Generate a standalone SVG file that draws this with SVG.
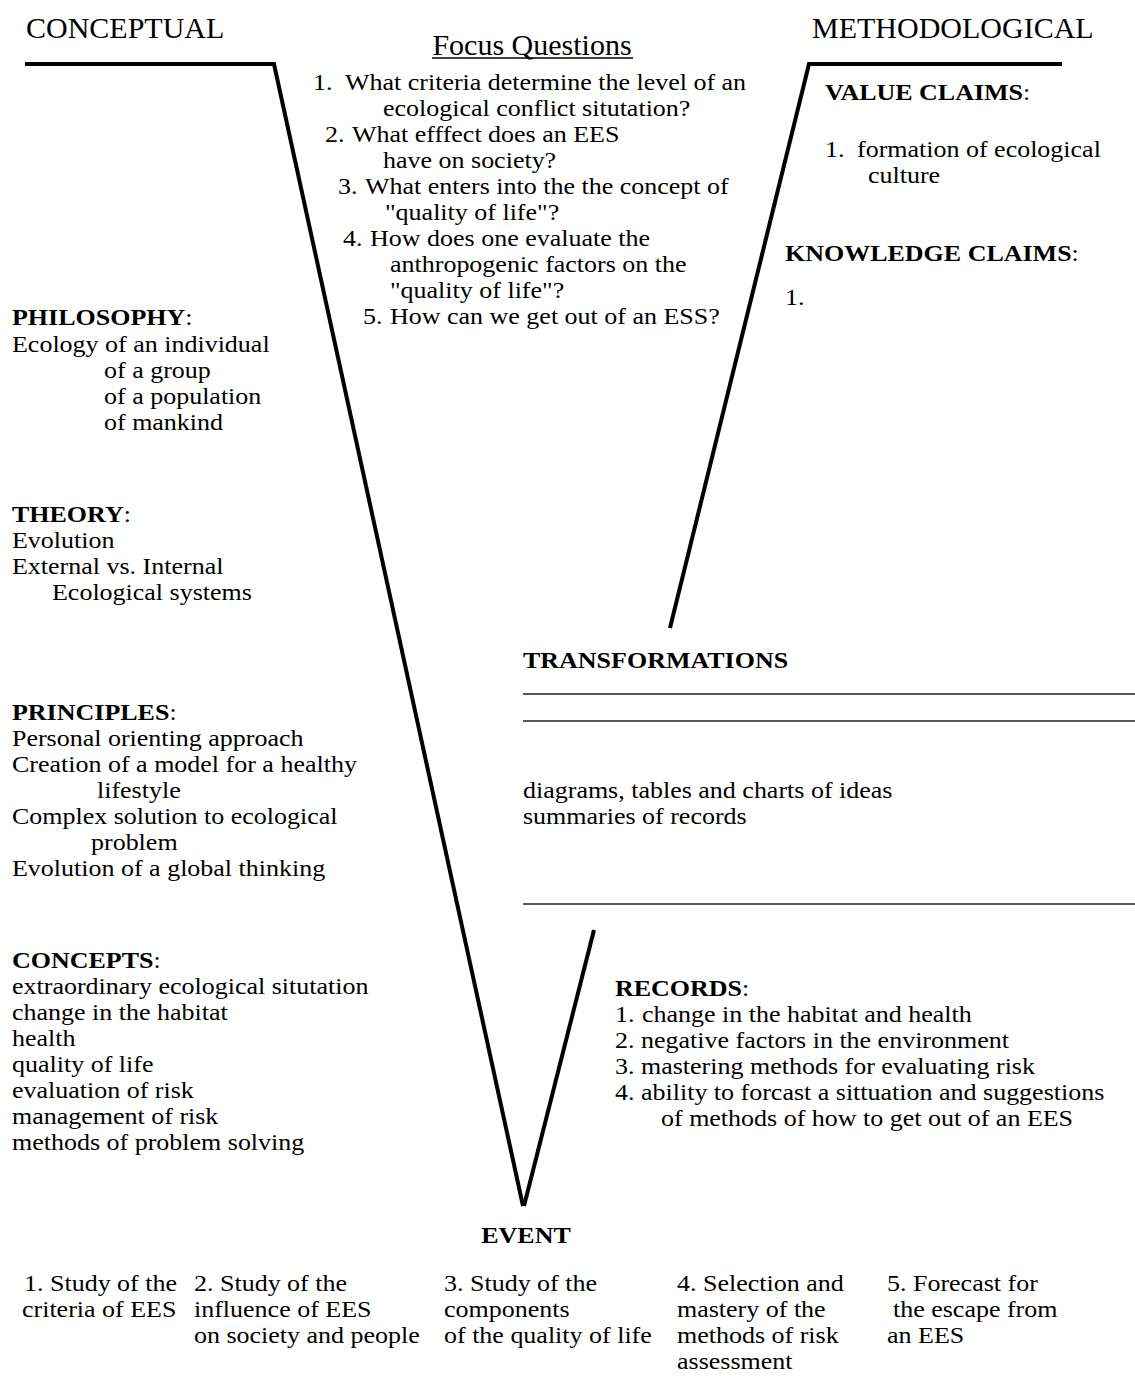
<svg xmlns="http://www.w3.org/2000/svg" width="1135" height="1376" viewBox="0 0 1135 1376">
<style>
text{font-family:"Liberation Serif","Times New Roman",serif;font-size:23.2px;fill:#000}
.big{font-size:30px}
.b{font-weight:bold}
.v{stroke:#000;stroke-width:4;fill:none;stroke-linecap:butt;stroke-linejoin:miter}
.u{stroke:#222;stroke-width:1.5}
</style>
<rect width="1135" height="1376" fill="#fff"/>
<g id="v-lines">
<polyline class="v" points="25,64 274,64 523,1206"/>
<line class="v" x1="594" y1="930" x2="524" y2="1206"/>
<polyline class="v" points="1062,64 809,64 670,628"/>
</g>
<g id="rules">
<line x1="432" y1="58" x2="633" y2="58" stroke="#000" stroke-width="1.5"/>
<line class="u" x1="523" y1="694" x2="1135" y2="694"/>
<line class="u" x1="523" y1="721" x2="1135" y2="721"/>
<line class="u" x1="523" y1="904" x2="1135" y2="904"/>
</g>
<g id="headers">
<text class="big" x="26" y="38">CONCEPTUAL</text>
<text class="big" x="812" y="38">METHODOLOGICAL</text>
<text class="big" x="532" y="55" text-anchor="middle">Focus Questions</text>
</g>
<g id="body" transform="scale(1.1207,1)">
<g id="focus-questions">
<text><tspan x="279.29" y="90">1.</tspan><tspan x="307.84" y="90">What criteria determine the level of an</tspan><tspan x="341.75" y="116">ecological conflict situtation?</tspan><tspan x="290" y="142">2.</tspan><tspan x="314.09" y="142">What efffect does an EES</tspan><tspan x="341.75" y="168">have on society?</tspan><tspan x="301.6" y="194">3.</tspan><tspan x="325.69" y="194">What enters into the the concept of</tspan><tspan x="343.54" y="220">"quality of life"?</tspan><tspan x="306.06" y="246">4.</tspan><tspan x="330.15" y="246">How does one evaluate the</tspan><tspan x="348" y="272">anthropogenic factors on the</tspan><tspan x="348" y="298">"quality of life"?</tspan><tspan x="323.9" y="324">5.</tspan><tspan x="348" y="324">How can we get out of an ESS?</tspan></text>
</g>
<g id="value-claims">
<text x="736.15" y="100"><tspan class="b">VALUE CLAIMS</tspan>:</text>
<text><tspan x="736.15" y="157">1.</tspan><tspan x="764.7" y="157">formation of ecological</tspan><tspan x="774.52" y="183">culture</tspan></text>
</g>
<g id="knowledge-claims">
<text x="700.45" y="261"><tspan class="b">KNOWLEDGE CLAIMS</tspan>:</text>
<text x="700.45" y="305">1.</text>
</g>
<g id="philosophy">
<text><tspan x="10.71" y="325"><tspan class="b">PHILOSOPHY</tspan>:</tspan><tspan x="10.71" y="352">Ecology of an individual</tspan><tspan x="92.8" y="378">of a group</tspan><tspan x="92.8" y="404">of a population</tspan><tspan x="92.8" y="430">of mankind</tspan></text>
</g>
<g id="theory">
<text><tspan x="10.71" y="522"><tspan class="b">THEORY</tspan>:</tspan><tspan x="10.71" y="548">Evolution</tspan><tspan x="10.71" y="574">External vs. Internal</tspan><tspan x="46.4" y="600">Ecological systems</tspan></text>
</g>
<g id="principles">
<text><tspan x="10.71" y="720"><tspan class="b">PRINCIPLES</tspan>:</tspan><tspan x="10.71" y="746">Personal orienting approach</tspan><tspan x="10.71" y="772">Creation of a model for a healthy</tspan><tspan x="86.55" y="798">lifestyle</tspan><tspan x="10.71" y="824">Complex solution to ecological</tspan><tspan x="81.2" y="850">problem</tspan><tspan x="10.71" y="876">Evolution of a global thinking</tspan></text>
</g>
<g id="concepts">
<text><tspan x="10.71" y="968"><tspan class="b">CONCEPTS</tspan>:</tspan><tspan x="10.71" y="994">extraordinary ecological situtation</tspan><tspan x="10.71" y="1020">change in the habitat</tspan><tspan x="10.71" y="1046">health</tspan><tspan x="10.71" y="1072">quality of life</tspan><tspan x="10.71" y="1098">evaluation of risk</tspan><tspan x="10.71" y="1124">management of risk</tspan><tspan x="10.71" y="1150">methods of problem solving</tspan></text>
</g>
<g id="transformations">
<text class="b" x="466.67" y="668">TRANSFORMATIONS</text>
<text><tspan x="466.67" y="798">diagrams, tables and charts of ideas</tspan><tspan x="466.67" y="824">summaries of records</tspan></text>
</g>
<g id="records">
<text><tspan x="548.76" y="996"><tspan class="b">RECORDS</tspan>:</tspan><tspan x="548.76" y="1022">1.</tspan><tspan x="572.86" y="1022">change in the habitat and health</tspan><tspan x="548.76" y="1048">2. negative factors in the environment</tspan><tspan x="548.76" y="1074">3. mastering methods for evaluating risk</tspan><tspan x="548.76" y="1100">4. ability to forcast a sittuation and suggestions</tspan><tspan x="589.81" y="1126">of methods of how to get out of an EES</tspan></text>
</g>
<g id="event">
<text class="b" x="469.35" y="1243" text-anchor="middle">EVENT</text>
</g>
<g id="event-items">
<text><tspan x="21.42" y="1291">1. Study of the</tspan><tspan x="19.63" y="1317">criteria of EES</tspan></text>
<text><tspan x="173.11" y="1291">2. Study of the</tspan><tspan x="173.11" y="1317">influence of EES</tspan><tspan x="173.11" y="1343">on society and people</tspan></text>
<text><tspan x="396.18" y="1291">3. Study of the</tspan><tspan x="396.18" y="1317">components</tspan><tspan x="396.18" y="1343">of the quality of life</tspan></text>
<text><tspan x="604.09" y="1291">4. Selection and</tspan><tspan x="604.09" y="1317">mastery of the</tspan><tspan x="604.09" y="1343">methods of risk</tspan><tspan x="604.09" y="1369">assessment</tspan></text>
<text><tspan x="791.47" y="1291">5. Forecast for</tspan><tspan x="796.82" y="1317">the escape from</tspan><tspan x="791.47" y="1343">an EES</tspan></text>
</g>
</g>
</svg>
